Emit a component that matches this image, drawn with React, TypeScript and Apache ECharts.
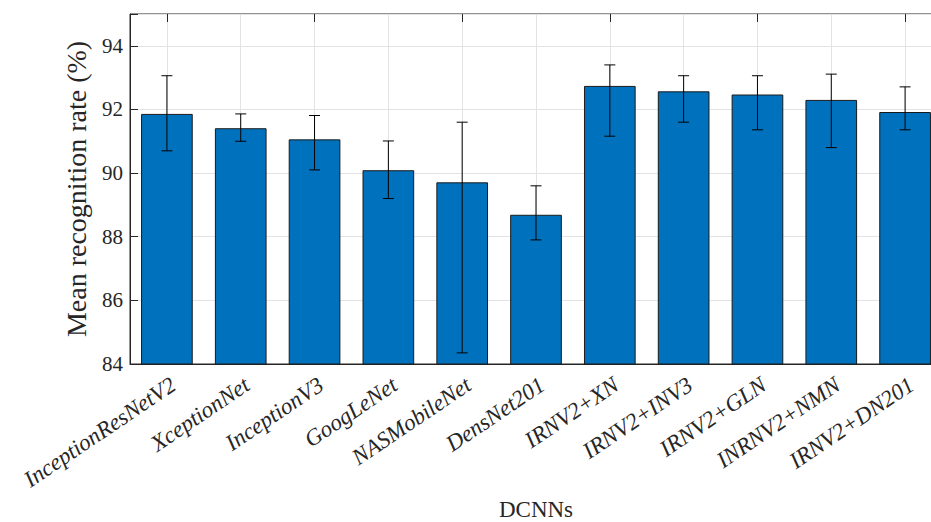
import React, { useEffect, useRef } from 'react';
import * as echarts from 'echarts';

const categories = [
  'InceptionResNetV2', 'XceptionNet', 'InceptionV3', 'GoogLeNet', 'NASMobileNet',
  'DensNet201', 'IRNV2+XN', 'IRNV2+INV3', 'IRNV2+GLN', 'INRNV2+NMN', 'IRNV2+DN201',
];
const meanRates = [91.86, 91.41, 91.06, 90.09, 89.71, 88.69, 92.74, 92.57, 92.47, 92.3, 91.92];
const errorLow = [90.7, 91.0, 90.1, 89.2, 84.35, 87.9, 91.16, 91.6, 91.36, 90.8, 91.36];
const errorHigh = [93.06, 91.86, 91.81, 91.01, 91.6, 89.6, 93.4, 93.06, 93.06, 93.11, 92.71];
const yMin = 84;
const yMax = 95;
const yStep = 2;

const FONT = '"Liberation Serif", "DejaVu Serif", serif';

export default function App() {
  const ref = useRef<HTMLDivElement>(null);
  useEffect(() => {
    if (!ref.current) return;
    const chart = echarts.init(ref.current, null, { renderer: 'svg' });
    const option: any = {
      animation: false,
      backgroundColor: '#ffffff',
      grid: {
        left: 130,
        top: 14,
        right: 4,
        bottom: 158,
        containLabel: false,
        outerBoundsMode: 'none',
        show: true,
        borderColor: '#262626',
        borderWidth: 1,
        backgroundColor: 'transparent',
      },
      xAxis: [
        {
          type: 'category',
          data: categories,
          boundaryGap: true,
          name: 'DCNNs',
          nameLocation: 'middle',
          nameGap: 134,
          nameTextStyle: { fontFamily: FONT, fontSize: 23, color: '#262626' },
          axisLine: { show: true, lineStyle: { color: '#262626', width: 1 } },
          axisTick: { show: true, inside: true, alignWithLabel: true, length: 8, lineStyle: { color: '#262626' } },
          axisLabel: {
            rotate: 34,
            margin: 9,
            interval: 0,
            verticalAlign: 'top',
            align: 'right',
            fontFamily: FONT,
            fontStyle: 'italic',
            fontSize: 23,
            color: '#262626',
          },
          splitLine: { show: true, alignWithLabel: true, lineStyle: { color: '#e3e3e3', width: 1 } },
        },
        {
          type: 'category',
          data: categories,
          position: 'top',
          boundaryGap: true,
          axisLine: { show: false },
          axisTick: { show: true, inside: true, alignWithLabel: true, length: 8, lineStyle: { color: '#262626' } },
          axisLabel: { show: false },
          splitLine: { show: false },
        },
      ],
      yAxis: {
        type: 'value',
        min: yMin,
        max: yMax,
        interval: yStep,
        name: 'Mean recognition rate (%)',
        nameLocation: 'middle',
        nameGap: 40,
        nameTextStyle: { fontFamily: FONT, fontSize: 28, color: '#262626' },
        axisLine: { show: true, lineStyle: { color: '#262626', width: 1 } },
        axisTick: { show: true, inside: true, length: 8, lineStyle: { color: '#262626' } },
        axisLabel: {
          fontFamily: FONT,
          fontSize: 21,
          color: '#262626',
          margin: 7,
          formatter: (v: number) => (v === yMax ? '' : String(v)),
        },
        splitLine: { show: true, lineStyle: { color: '#e3e3e3', width: 1 } },
      },
      series: [
        {
          type: 'bar',
          data: meanRates,
          barWidth: '70%',
          itemStyle: { color: '#0072BD', borderColor: '#1a1a1a', borderWidth: 1 },
          z: 2,
        },
        {
          type: 'custom',
          data: categories.map((_, i) => [i, errorLow[i], errorHigh[i]]),
          encode: { x: 0, y: [1, 2] },
          z: 3,
          renderItem: (params: any, api: any) => {
            const x = api.value(0);
            const lo = api.coord([x, api.value(1)]);
            const hi = api.coord([x, api.value(2)]);
            const hw = 5.5;
            const style = { stroke: '#000000', lineWidth: 1 };
            return {
              type: 'group',
              children: [
                { type: 'line', shape: { x1: lo[0], y1: lo[1], x2: hi[0], y2: hi[1] }, style },
                { type: 'line', shape: { x1: lo[0] - hw, y1: lo[1], x2: lo[0] + hw, y2: lo[1] }, style },
                { type: 'line', shape: { x1: hi[0] - hw, y1: hi[1], x2: hi[0] + hw, y2: hi[1] }, style },
              ],
            };
          },
        },
      ],
    };
    chart.setOption(option);
    return () => chart.dispose();
  }, []);
  return (
    <div style={{ position: 'absolute', left: 0, top: 0, width: 931, height: 522, overflow: 'hidden', background: '#fff' }}>
      <div ref={ref} style={{ width: 946, height: 522 }} />
    </div>
  );
}
